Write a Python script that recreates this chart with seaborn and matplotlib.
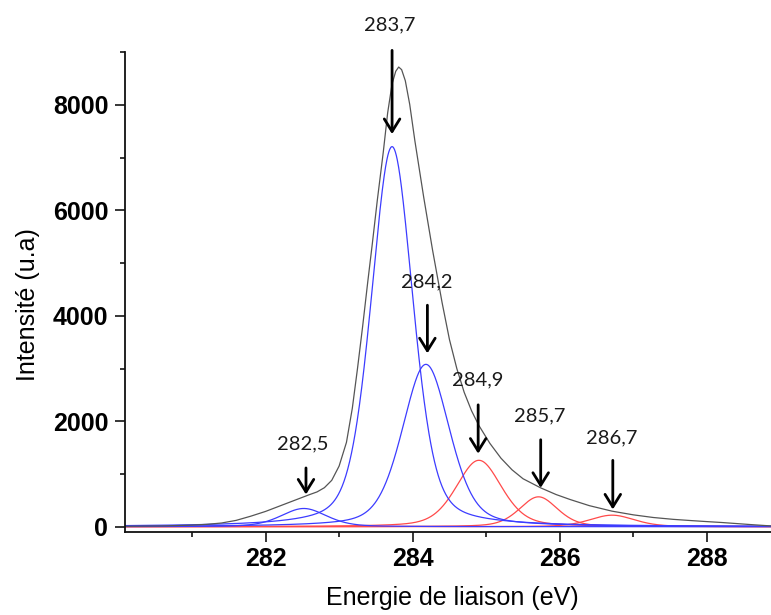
import numpy as np
import pandas as pd
import matplotlib
matplotlib.use("Agg")
import matplotlib.pyplot as plt
import seaborn as sns
from matplotlib.ticker import MultipleLocator

# ---- data (fitted XPS C1s components) ----
centers = [282.52, 283.72, 284.18, 284.90, 285.71, 286.71]   # eV
heights = [346, 7210, 3080, 1260, 567, 219]                  # intensity (u.a)
fwhms = [0.73, 0.67, 0.76, 0.73, 0.61, 0.72]                 # eV
groups = ["blue", "blue", "blue", "red", "red", "red"]
peak_labels = ["282,5", "283,7", "284,2", "284,9", "285,7", "286,7"]
eta = 0.35   # Lorentzian fraction of the pseudo-Voigt line shape

env_E = [280.09, 280.6, 281.0, 281.2, 281.4, 281.6, 281.8, 282.0, 282.15, 282.3,
         282.45, 282.6, 282.7, 282.8, 282.9, 283.0, 283.1, 283.18, 283.25, 283.32,
         283.39, 283.45, 283.52, 283.6, 283.66, 283.72, 283.77, 283.81, 283.85, 283.9,
         283.96, 284.03, 284.15, 284.27, 284.4, 284.5, 284.6, 284.7, 284.8, 284.9,
         285.05, 285.2, 285.35, 285.5, 285.74, 285.95, 286.14, 286.4, 286.71, 287.0,
         287.27, 287.54, 287.8, 288.0, 288.2, 288.4, 288.6, 288.87]
env_I = [8, 15, 30, 45, 70, 120, 200, 290, 370, 450,
         530, 610, 660, 740, 880, 1150, 1600, 2250, 3000, 3800,
         4650, 5350, 6200, 7100, 7850, 8400, 8640, 8720, 8670, 8460,
         8010, 7320, 6250, 5250, 4250, 3550, 3000, 2550, 2200, 1920,
         1580, 1300, 1080, 910, 737, 610, 516, 400, 295, 225,
         175, 140, 115, 97, 80, 60, 40, 15]

x_ticks = [282, 284, 286, 288]
y_ticks = [0, 2000, 4000, 6000, 8000]

# annotation layout (data coordinates): arrow x, arrow tip y, arrow tail y, label x, label y
ann_x = [282.55, 283.72, 284.20, 284.89, 285.74, 286.72]
ann_tip = [611, 7448, 3289, 1386, 737, 327]
ann_tail = [1115, 9036, 4202, 2312, 1650, 1259]
lab_x = [282.51, 283.69, 284.19, 284.89, 285.73, 286.71]
lab_y = [1569, 9527, 4643, 2785, 2110, 1694]


def pseudo_voigt(x, c, h, w):
    hw = w / 2.0
    g = np.exp(-np.log(2) * ((x - c) / hw) ** 2)
    l = 1.0 / (1.0 + ((x - c) / hw) ** 2)
    return h * ((1 - eta) * g + eta * l)


x = np.linspace(280.0, 289.5, 1500)
rows = []
for i, (c, h, w, grp) in enumerate(zip(centers, heights, fwhms, groups)):
    rows.append(pd.DataFrame({"E": x, "I": pseudo_voigt(x, c, h, w), "comp": i, "grp": grp}))
comp_df = pd.concat(rows, ignore_index=True)
env_df = pd.DataFrame({"E": env_E, "I": env_I})

sns.set_style("ticks")
plt.rcParams["font.family"] = ["Liberation Sans", "DejaVu Sans"]
plt.rcParams["text.color"] = "black"
plt.rcParams["axes.labelcolor"] = "black"
plt.rcParams["xtick.color"] = "black"
plt.rcParams["ytick.color"] = "black"

fig = plt.figure(figsize=(7.71, 6.15), dpi=100)
ax = fig.add_axes([0.1621, 0.1354, 0.8379, 0.7796])

sns.lineplot(data=comp_df[comp_df.grp == "red"], x="E", y="I", units="comp",
             estimator=None, sort=False, color="#ff4a4a", lw=0.9, ax=ax)
sns.lineplot(data=comp_df[comp_df.grp == "blue"], x="E", y="I", units="comp",
             estimator=None, sort=False, color="#3c3cff", lw=0.9, ax=ax)
sns.lineplot(data=env_df, x="E", y="I", estimator=None, sort=False,
             color="#555555", lw=0.9, ax=ax)

ax.set_xlim(280.09, 288.87)
ax.set_ylim(-95, 9000)

ax.set_xticks(x_ticks)
ax.set_yticks(y_ticks)
ax.xaxis.set_minor_locator(MultipleLocator(1))
ax.yaxis.set_minor_locator(MultipleLocator(1000))
ax.tick_params(axis="both", which="major", length=7.2, width=1.1, labelsize=18,
               color="black", labelcolor="black")
ax.tick_params(axis="both", which="minor", length=3.6, width=1.1, color="black")
ax.tick_params(axis="x", which="major", pad=3.6)
ax.tick_params(axis="y", which="major", pad=4.8)
for lab in ax.get_xticklabels() + ax.get_yticklabels():
    lab.set_fontweight("bold")

for s in ["top", "right"]:
    ax.spines[s].set_visible(False)
for s in ["left", "bottom"]:
    ax.spines[s].set_linewidth(1.3)
    ax.spines[s].set_color("#111111")

ax.set_xlabel("Energie de liaison (eV)", fontsize=18, color="black")
ax.set_ylabel("Intensité (u.a)", fontsize=18, color="black")
ax.xaxis.set_label_coords(0.507, -0.113)
ax.yaxis.set_label_coords(-0.1316, 0.473)

for xa, tip, tail, lx, ly, txt in zip(ann_x, ann_tip, ann_tail, lab_x, lab_y, peak_labels):
    ax.annotate("", xy=(xa, tip), xytext=(xa, tail), annotation_clip=False,
                arrowprops=dict(arrowstyle="->,head_length=0.45,head_width=0.28",
                                lw=2.0, color="black", mutation_scale=20,
                                shrinkA=0, shrinkB=0))
    ax.text(lx, ly, txt, ha="center", va="center", fontsize=14.5,
            family=["Lato", "DejaVu Sans"], color="#1a1a1a", clip_on=False)

fig.savefig("out.png", dpi=100)
